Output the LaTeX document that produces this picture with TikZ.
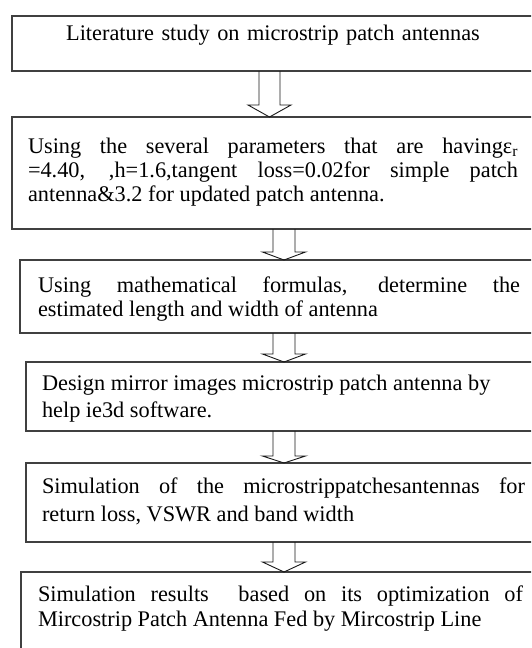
\documentclass[tikz,border=0pt]{standalone}
\usepackage{fontspec}
\setmainfont{Liberation Serif}
\usetikzlibrary{calc}

\tikzset{
  stepbox/.style={rectangle, anchor=north west, inner ysep=0pt, outer sep=0pt,
    align=justify},
  boxline/.style={draw=black!75, line width=1.5pt},
  blockarrow/.style={draw=black!90, line width=0.9pt, line join=miter},
}
% size and leading of the text in a box
\newcommand{\boxfont}[1]{\fontsize{22.3}{#1}\selectfont}

% frame of a box, running on past the right edge of the page
\newcommand{\frameof}[1]{%
  \draw[boxline] (#1.north west) rectangle ($(#1.south east)+(20,0)$);
}

% hollow downward block arrow between two boxes
% #1 from, #2 to, #3 axis coordinate, #4 half shaft width, #5 half head width, #6 head height
\newcommand{\hollowdown}[6]{%
  \draw[blockarrow]
    ($(#1.south -| #3)+(-#4,0)$) -- ($(#2.north -| #3)+(-#4,#6)$)
    -- ($(#2.north -| #3)+(-#5,#6)$) -- (#2.north -| #3)
    -- ($(#2.north -| #3)+(#5,#6)$) -- ($(#2.north -| #3)+(#4,#6)$)
    -- ($(#1.south -| #3)+(#4,0)$);
}

\begin{document}
\begin{tikzpicture}[x=1pt, y=1pt]
\useasboundingbox (0,0) rectangle (531,-648);
\clip (0,0) rectangle (531,-648);
\fill[white] (0,0) rectangle (531,-648);

\node[stepbox, text width=490pt, inner xsep=16pt, align=center,
      text height=24pt, text depth=31pt, font=\boxfont{24}] (b1) at (12,-16)
  {Literature study on microstrip patch antennas};

\node[stepbox, text width=490pt, inner xsep=16pt,
      text height=36pt, text depth=76pt, font=\boxfont{24}] (b2) at (12,-117)
  {Using the several parameters that are havingε\textsubscript{r}\linebreak
   =4.40, ,h=1.6,tangent loss=0.02for simple patch\linebreak
   antenna\&3.2 for updated patch antenna.};

\node[stepbox, text width=482pt, inner xsep=18pt,
      text height=32pt, text depth=41pt, font=\boxfont{24}] (b3) at (20,-260)
  {Using mathematical formulas, determine the\linebreak
   estimated length and width of antenna};

\node[stepbox, text width=483pt, inner xsep=16pt,
      text height=28pt, text depth=41pt, font=\boxfont{27}] (b4) at (26,-362)
  {Design mirror images microstrip patch antenna by\newline
   help ie3d software.};

\node[stepbox, text width=483pt, inner xsep=16pt,
      text height=30pt, text depth=49pt, font=\boxfont{28}] (b5) at (26,-463)
  {Simulation of the microstrippatchesantennas for\linebreak
   return loss, VSWR and band width};

\node[stepbox, text width=485pt, inner xsep=17pt,
      text height=29pt, text depth=71pt, font=\boxfont{25}] (b6) at (21,-572)
  {Simulation results\ \ based on its optimization of\linebreak
   Mircostrip Patch Antenna Fed by Mircostrip Line};

\foreach \b in {b1,b2,b3,b4,b5,b6} {\frameof{\b}}

% arrow axes
\coordinate (ax1) at (269.5,0);
\coordinate (ax2) at (284,0);

\hollowdown{b1}{b2}{ax1}{10.5}{21.5}{12}
\hollowdown{b2}{b3}{ax2}{11}{21.5}{8}
\hollowdown{b3}{b4}{ax2}{11}{21.5}{8}
\hollowdown{b4}{b5}{ax2}{11}{21.5}{7}
\hollowdown{b5}{b6}{ax2}{11}{21.5}{10}
\end{tikzpicture}
\end{document}
